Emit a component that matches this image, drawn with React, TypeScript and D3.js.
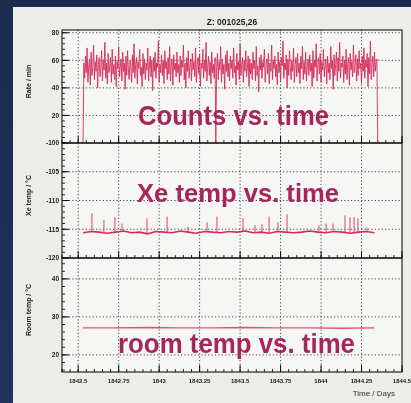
import React from "react";
import * as d3 from "d3";

// counts per minute, sampled every 0.005 day
const countsStart = 1842.53;
const countsStep = 0.005;
const countsRate = [
  0, 58, 47, 63, 51, 69, 44, 56, 61, 42, 66, 49, 55, 71, 46, 59, 52, 64, 40, 57,
  62, 48, 54, 67, 45, 60, 53, 73, 47, 58, 43, 65, 51, 56, 62, 44, 68, 50, 57, 46,
  63, 41, 59, 54, 70, 48, 55, 61, 45, 66, 52, 58, 39, 63, 49, 67, 53, 46, 60, 56,
  44, 64, 51, 72, 47, 57, 62, 43, 59, 54, 68, 49, 55, 41, 65, 50, 61, 46, 58, 53,
  69, 45, 56, 63, 48, 60, 38, 62, 52, 66, 47, 58, 55, 74, 44, 57, 51, 64, 49, 60,
  43, 67, 54, 59, 46, 62, 50, 70, 45, 56, 61, 42, 64, 53, 58, 48, 66, 51, 57, 44,
  63, 49, 60, 55, 71, 46, 58, 40, 62, 52, 67, 47, 56, 61, 45, 65, 53, 59, 48, 69,
  44, 57, 62, 50, 64, 41, 58, 54, 68, 47, 60, 52, 73, 45, 56, 63, 49, 59, 43, 66,
  51, 57, 47, 62, 0, 55, 65, 46, 59, 53, 70, 44, 61, 50, 57, 39, 64, 52, 67, 48,
  58, 45, 63, 54, 60, 47, 69, 51, 56, 42, 65, 53, 59, 46, 72, 49, 57, 62, 44, 60,
  52, 67, 48, 55, 63, 41, 61, 50, 58, 46, 66, 54, 60, 45, 70, 49, 56, 37, 62, 53,
  64, 47, 59, 55, 68, 44, 57, 61, 50, 65, 43, 58, 52, 71, 46, 60, 54, 63, 48, 57,
  42, 66, 51, 59, 45, 62, 56, 74, 47, 58, 53, 64, 40, 61, 49, 67, 55, 46, 60, 52,
  69, 44, 57, 62, 48, 65, 51, 58, 43, 63, 54, 70, 46, 59, 50, 66, 45, 56, 61, 49,
  64, 52, 58, 41, 67, 47, 60, 55, 72, 45, 57, 62, 50, 65, 44, 59, 53, 68, 48, 56,
  61, 43, 63, 51, 58, 46, 70, 54, 60, 39, 64, 49, 57, 66, 45, 62, 52, 73, 47, 58,
  55, 63, 44, 60, 50, 68, 46, 57, 62, 42, 65, 53, 59, 48, 71, 51, 56, 64, 45, 61,
  49, 67, 54, 58, 43, 63, 52, 69, 47, 60, 55, 65, 41, 62, 50, 74, 46, 57, 63, 48,
  66, 52, 59, 61, 0,
];

// xenon temperature (°C), every 0.05 day, plus short spikes
const xeStart = 1842.53;
const xeStep = 0.05;
const xeTemp = [
  -115.6, -115.4, -115.5, -115.7, -115.5, -115.3, -115.6, -115.5, -115.8, -115.4,
  -115.5, -115.6, -115.3, -115.5, -115.7, -115.4, -115.5, -115.6, -115.4, -115.5,
  -115.3, -115.6, -115.5, -115.7, -115.4, -115.5, -115.6, -115.5, -115.3, -115.5,
  -115.6, -115.4, -115.5, -115.7, -115.5, -115.4, -115.6,
];
const xeSpikeTimes = [
  1842.585, 1842.659, 1842.727, 1842.771, 1842.925, 1843.049, 1843.178, 1843.296,
  1843.357, 1843.518, 1843.592, 1843.635, 1843.679, 1843.734, 1843.79, 1843.987,
  1844.031, 1844.074, 1844.148, 1844.179, 1844.204, 1844.228, 1844.284,
];
const xeSpikePeaks = [
  -112.2, -113.4, -112.9, -114.0, -113.1, -112.8, -114.5, -113.8,
  -112.8, -113.1, -114.3, -114.1, -112.8, -113.8, -112.4, -114.3,
  -114.0, -114.0, -112.6, -112.9, -112.9, -113.1, -114.7,
];

// room temperature (°C), every 0.2 day
const roomStart = 1842.53;
const roomStep = 0.2;
const roomTemp = [27.1, 27.1, 27.2, 27.1, 27.1, 27.2, 27.1, 27.1, 27.0, 27.1];

const timeTicks = [1842.5, 1842.75, 1843, 1843.25, 1843.5, 1843.75, 1844, 1844.25, 1844.5];
const timeTickLabels = ["1842.5", "1842.75", "1843", "1843.25", "1843.5", "1843.75", "1844", "1844.25", "1844.5"];
const rateTicks = [20, 40, 60, 80];
const rateTickLabels = ["20", "40", "60", "80"];
const xeTicks = [-120, -115, -110, -105, -100];
const xeTickLabels = ["-120", "-115", "-110", "-105", "-100"];
const roomTicks = [20, 30, 40];
const roomTickLabels = ["20", "30", "40"];

const W = 411;
const H = 403;
const FONT = "'Liberation Sans', Arial, Helvetica, sans-serif";
const DATA = "#d62a5a";
const LABEL = "#a6265a";

const x = d3.scaleLinear().domain([1842.4, 1844.5]).range([62, 402]);

const panels = [
  {
    top: 30, bottom: 143, domain: [0, 82], ticks: rateTicks, labels: rateTickLabels,
    minor: 4, title: "Rate / min", grid: [20, 40, 60, 80],
  },
  {
    top: 143, bottom: 258, domain: [-120, -100], ticks: xeTicks, labels: xeTickLabels,
    minor: 1, title: "Xe temp / °C", grid: [-115, -110, -105],
  },
  {
    top: 258, bottom: 372, domain: [15.5, 45.5], ticks: roomTicks, labels: roomTickLabels,
    minor: 2, title: "Room temp / °C", grid: [20, 30, 40],
  },
];

const yScales = panels.map((p) =>
  d3.scaleLinear().domain(p.domain).range([p.bottom, p.top])
);

const xMinor = d3.range(1842.4, 1844.5001, 0.05);

function Panel({ i }: { i: number }) {
  const p = panels[i];
  const y = yScales[i];
  const [lo, hi] = p.domain;
  const minorVals = d3.range(Math.ceil(lo / p.minor) * p.minor, hi + 1e-6, p.minor);
  const midY = (p.top + p.bottom) / 2;
  return (
    <g>
      {/* grid */}
      {timeTicks.slice(0, -1).map((t) => (
        <line key={"vg" + t} x1={x(t)} x2={x(t)} y1={p.top} y2={p.bottom}
          stroke="#333" strokeWidth={0.9} strokeDasharray="1.2,2.2" />
      ))}
      {p.grid.map((v) => (
        <line key={"hg" + v} x1={62} x2={402} y1={y(v)} y2={y(v)}
          stroke="#333" strokeWidth={0.9} strokeDasharray="1.2,2.2" />
      ))}
      {/* left ticks */}
      {minorVals.map((v) => (
        <line key={"ym" + v} x1={62} x2={65} y1={y(v)} y2={y(v)} stroke="#111" strokeWidth={0.9} />
      ))}
      {p.ticks.map((v) => (
        <line key={"yM" + v} x1={62} x2={69} y1={y(v)} y2={y(v)} stroke="#111" strokeWidth={1} />
      ))}
      {p.ticks.map((v, k) => (
        <text key={"yl" + v} x={59} y={y(v) + 2.3} textAnchor="end" fontSize={6.5}
          fontWeight="bold" fill="#222" fontFamily={FONT}>
          {p.labels[k]}
        </text>
      ))}
      {/* bottom ticks */}
      {xMinor.map((t) => (
        <line key={"xm" + t} x1={x(t)} x2={x(t)} y1={p.bottom} y2={p.bottom - 3}
          stroke="#111" strokeWidth={0.9} />
      ))}
      {timeTicks.map((t) => (
        <line key={"xM" + t} x1={x(t)} x2={x(t)} y1={p.bottom} y2={p.bottom - 7}
          stroke="#111" strokeWidth={1} />
      ))}
      <text transform={`translate(31,${midY - 5}) rotate(-90)`} textAnchor="middle"
        fontSize={7} fontWeight="bold" fill="#222" fontFamily={FONT}>
        {p.title}
      </text>
    </g>
  );
}

export default function App() {
  const yC = yScales[0];
  const yX = yScales[1];
  const yR = yScales[2];

  const countsLine = d3.line<number>()
    .x((_, k) => x(countsStart + k * countsStep))
    .y((d) => yC(d));
  const xeLine = d3.line<number>()
    .x((_, k) => x(xeStart + k * xeStep))
    .y((d) => yX(d));
  const roomLine = d3.line<number>()
    .x((_, k) => x(roomStart + k * roomStep))
    .y((d) => yR(d));

  const xeBaseAt = (t: number) => {
    const k = Math.min(xeTemp.length - 1, Math.max(0, Math.round((t - xeStart) / xeStep)));
    return xeTemp[k];
  };

  return (
    <svg width={W} height={H} style={{ position: "absolute", left: 0, top: 0, display: "block" }}>
      <defs>
        <linearGradient id="bg" x1="0" y1="0" x2="0" y2="1">
          <stop offset="0" stopColor="#1a2a4e" />
          <stop offset="1" stopColor="#22325a" />
        </linearGradient>
        <filter id="soft" x="-5%" y="-5%" width="110%" height="110%">
          <feGaussianBlur stdDeviation="0.35" />
        </filter>
      </defs>
      <rect x={0} y={0} width={W} height={H} fill="url(#bg)" />
      <rect x={13} y={7} width={398} height={396} fill="#ecece9" />

      <g filter="url(#soft)">
        <rect x={62} y={30} width={340} height={342} fill="#f6f6f4" />

        <text x={232} y={25} textAnchor="middle" fontSize={8.5} fontWeight="bold"
          fill="#222" fontFamily={FONT}>
          Z: 001025,26
        </text>

        {panels.map((_, i) => <Panel key={i} i={i} />)}

        {/* data */}
        <path d={countsLine(countsRate) ?? ""} fill="none" stroke={DATA} strokeWidth={0.9} />
        <path d={xeLine(xeTemp) ?? ""} fill="none" stroke={DATA} strokeWidth={1.6} />
        {xeSpikeTimes.map((t, k) => (
          <line key={"sp" + k} x1={x(t)} x2={x(t)} y1={yX(xeBaseAt(t))} y2={yX(xeSpikePeaks[k])}
            stroke="#dc4170" strokeWidth={1} />
        ))}
        <path d={roomLine(roomTemp) ?? ""} fill="none" stroke="#e0507a" strokeWidth={1.4} />

        {/* frames */}
        {panels.map((p, i) => (
          <rect key={"fr" + i} x={62} y={p.top} width={340} height={p.bottom - p.top}
            fill="none" stroke="#111" strokeWidth={1.1} />
        ))}

        {timeTicks.map((t, k) => (
          <text key={"xl" + t} x={x(t)} y={383} textAnchor="middle" fontSize={6}
            fontWeight="bold" fill="#222" fontFamily={FONT}>
            {timeTickLabels[k]}
          </text>
        ))}
        <text x={395} y={396} textAnchor="end" fontSize={8} fill="#333" fontFamily={FONT}>
          Time / Days
        </text>

        {/* overlay captions */}
        <text x={138} y={125} fontSize={27} fontWeight="bold" fill={LABEL} fontFamily={FONT}
          textLength={191} lengthAdjust="spacingAndGlyphs">
          Counts vs. time
        </text>
        <text x={137} y={202} fontSize={26} fontWeight="bold" fill={LABEL} fontFamily={FONT}
          textLength={202} lengthAdjust="spacingAndGlyphs">
          Xe temp vs. time
        </text>
        <text x={118} y={353} fontSize={27} fontWeight="bold" fill={LABEL} fontFamily={FONT}
          textLength={237} lengthAdjust="spacingAndGlyphs">
          room temp vs. time
        </text>
      </g>
    </svg>
  );
}
